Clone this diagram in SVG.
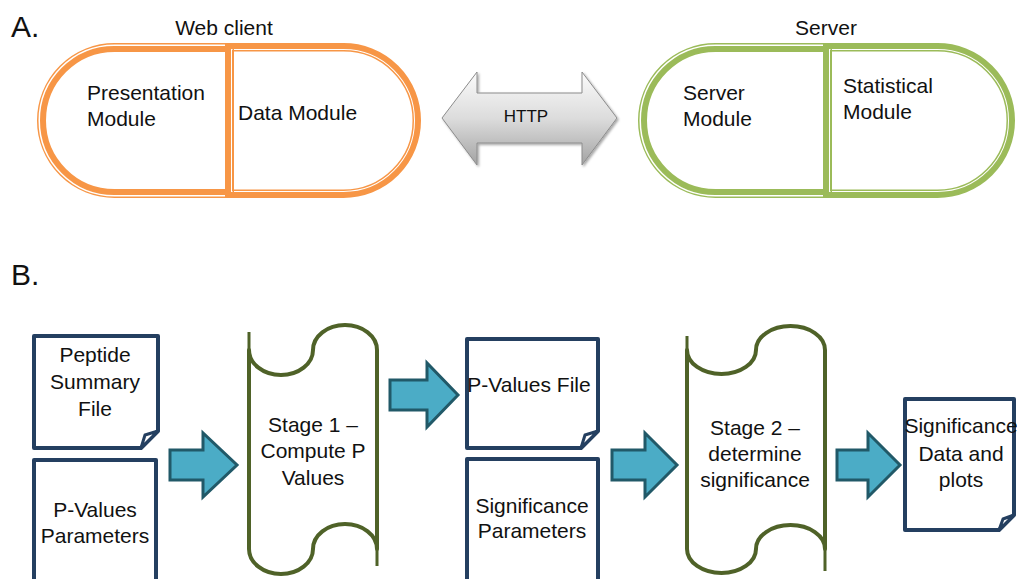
<svg xmlns="http://www.w3.org/2000/svg" width="1017" height="579" viewBox="0 0 1017 579">
  <defs>
    <style>
      text { font-family: "Liberation Sans", Arial, sans-serif; fill: #111; }
      .t { font-size: 21px; }
      .c { text-anchor: middle; }
      .big { font-size: 30px; }
      .oThick { fill: none; stroke: #F79646; stroke-width: 6; }
      .oThin { fill: none; stroke: #F79646; stroke-width: 1.5; }
      .gThick { fill: none; stroke: #9BBB59; stroke-width: 6; }
      .gThin { fill: none; stroke: #9BBB59; stroke-width: 1.5; }
      .doc { fill: #fff; stroke: #243F60; stroke-width: 4; stroke-linejoin: round; }
      .fold { fill: #fff; stroke: #243F60; stroke-width: 3; stroke-linejoin: round; }
      .scroll { fill: #fff; stroke: #4F6228; stroke-width: 4; stroke-linejoin: round; }
      .spike { fill: none; stroke: #4F6228; stroke-width: 3; }
      .blk { fill: #4BACC6; stroke: #215968; stroke-width: 3; stroke-linejoin: miter; }
    </style>
    <linearGradient id="grey" x1="0" y1="0" x2="0" y2="1">
      <stop offset="0" stop-color="#FBFBFB"/>
      <stop offset="0.5" stop-color="#DCDCDC"/>
      <stop offset="1" stop-color="#A3A3A3"/>
    </linearGradient>
    <filter id="sh" x="-10%" y="-10%" width="130%" height="130%">
      <feDropShadow dx="1.5" dy="1.5" stdDeviation="1.2" flood-color="#000" flood-opacity="0.35"/>
    </filter>
  </defs>
  <rect width="1017" height="579" fill="#fff"/>

  <text class="big" x="11" y="37">A.</text>
  <text class="big" x="11" y="285">B.</text>

  <g id="web-client">
    <text class="t c" x="224" y="35">Web client</text>
    <g id="presentation-module">
      <path class="oThin" d="M233.25,43.75 L114.5,43.75 A76.75,76.75 0 0 0 114.5,197.25 L233.25,197.25 Z"/>
      <path class="oThick" d="M228,49 L114.5,49 A71.5,71.5 0 0 0 114.5,192 L228,192 Z"/>
      <text class="t" x="87" y="100">Presentation</text>
      <text class="t" x="87" y="126">Module</text>
    </g>
    <g id="data-module">
      <path class="oThick" d="M228,46 L343.5,46 A74.5,74.5 0 0 1 343.5,195 L228,195 Z"/>
      <path class="oThin" d="M232.75,50.75 L343.5,50.75 A69.75,69.75 0 0 1 343.5,190.25 L232.75,190.25 Z"/>
      <text class="t" x="238" y="120">Data Module</text>
    </g>
  </g>

  <g id="http">
    <polygon points="442,118 477,72 477,93 582,93 582,72 617,118 582,165 582,143 477,143 477,165" fill="url(#grey)" stroke="#8C8C8C" stroke-width="1" filter="url(#sh)"/>
    <text class="c" x="526" y="122" style="font-size:17px">HTTP</text>
  </g>

  <g id="server">
    <text class="t c" x="826" y="35">Server</text>
    <g id="server-module">
      <path class="gThin" d="M831.25,43.75 L715.5,43.75 A76.75,76.75 0 0 0 715.5,197.25 L831.25,197.25 Z"/>
      <path class="gThick" d="M826,49 L715.5,49 A71.5,71.5 0 0 0 715.5,192 L826,192 Z"/>
      <text class="t" x="683" y="100">Server</text>
      <text class="t" x="683" y="126">Module</text>
    </g>
    <g id="statistical-module">
      <path class="gThick" d="M826,46 L937.5,46 A74.5,74.5 0 0 1 937.5,195 L826,195 Z"/>
      <path class="gThin" d="M830.75,50.75 L937.5,50.75 A69.75,69.75 0 0 1 937.5,190.25 L830.75,190.25 Z"/>
      <text class="t" x="843" y="93">Statistical</text>
      <text class="t" x="843" y="119">Module</text>
    </g>
  </g>

  <g id="peptide-summary-file">
    <path class="doc" d="M34,336 L158,336 L158,431 L141,448 L34,448 Z"/>
    <path class="fold" d="M141,448 L145,435 L158,431 Z"/>
    <text class="t c" x="95" y="362">Peptide</text>
    <text class="t c" x="95" y="389">Summary</text>
    <text class="t c" x="95" y="416">File</text>
  </g>

  <g id="p-values-parameters">
    <path class="doc" d="M34,590 L34,460 L156,460 L156,590"/>
    <text class="t c" x="95" y="517">P-Values</text>
    <text class="t c" x="95" y="543">Parameters</text>
  </g>

  <g id="stage1">
    <path class="scroll" d="M249,350 A32,25 0 0 0 281,375 A32,25 0 0 0 313,350 A32,25 0 0 1 345,325 A32,25 0 0 1 377,350 L377,549 A32,25 0 0 0 345,524 A32,25 0 0 0 313,549 A32,25 0 0 1 281,574 A32,25 0 0 1 249,549 Z"/>
    <path class="spike" d="M249,332 V352 M377,547 V566"/>
    <text class="t c" x="313" y="432">Stage 1 –</text>
    <text class="t c" x="313" y="458">Compute P</text>
    <text class="t c" x="313" y="485">Values</text>
  </g>

  <g id="p-values-file">
    <path class="doc" d="M467,339 L598,339 L598,431 L581,448 L467,448 Z"/>
    <path class="fold" d="M581,448 L585,435 L598,431 Z"/>
    <text class="t c" x="529" y="392">P-Values File</text>
  </g>

  <g id="significance-parameters">
    <path class="doc" d="M467,590 L467,459 L598,459 L598,590"/>
    <text class="t c" x="532" y="513">Significance</text>
    <text class="t c" x="532" y="538">Parameters</text>
  </g>

  <g id="stage2">
    <path class="scroll" d="M687,350 A34.5,24 0 0 0 721.5,374 A34.5,24 0 0 0 756,350 A34.5,24 0 0 1 790.5,326 A34.5,24 0 0 1 825,350 L825,549 A34.5,24 0 0 0 790.5,525 A34.5,24 0 0 0 756,549 A34.5,24 0 0 1 721.5,573 A34.5,24 0 0 1 687,549 Z"/>
    <path class="spike" d="M687,336 V352 M825,547 V571"/>
    <text class="t c" x="755" y="435">Stage 2 –</text>
    <text class="t c" x="755" y="461">determine</text>
    <text class="t c" x="755" y="487">significance</text>
  </g>

  <g id="significance-data-and-plots">
    <path class="doc" d="M905,399 L1014,399 L1014,515 L999,530 L905,530 Z"/>
    <path class="fold" d="M999,530 L1003,519 L1014,515 Z"/>
    <text class="t c" x="961" y="433">Significance</text>
    <text class="t c" x="961" y="461">Data and</text>
    <text class="t c" x="961" y="487">plots</text>
  </g>

  <g id="connectors">
    <polygon class="blk" points="170,450 203,450 203,433 237,465 203,497 203,480 170,480"/>
    <polygon class="blk" points="390,380 427,380 427,363 458,395 427,427 427,410 390,410"/>
    <polygon class="blk" points="612,450 645,450 645,433 677,465 645,497 645,480 612,480"/>
    <polygon class="blk" points="837,450 868,450 868,433 900,465 868,497 868,480 837,480"/>
  </g>
</svg>
